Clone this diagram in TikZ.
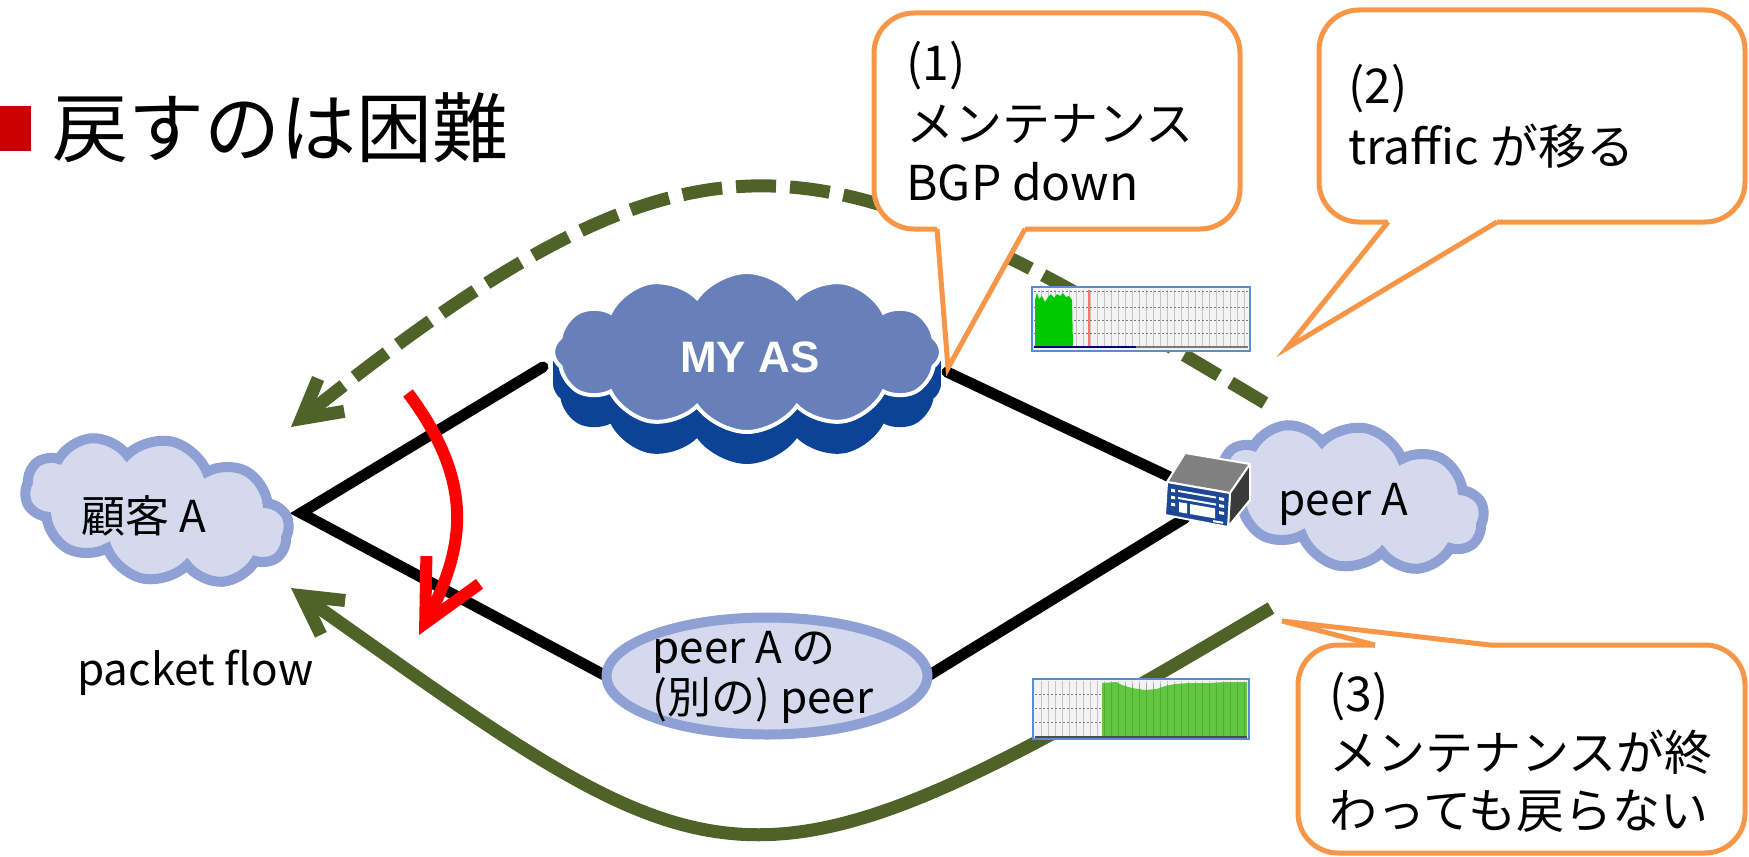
\documentclass[tikz,border=0pt]{standalone}
\usepackage{fontspec}
\setmainfont{Noto Sans CJK JP}
\newfontfamily\boldlatin{Liberation Sans}
\usetikzlibrary{shapes.symbols,shapes.geometric,arrows.meta}

\definecolor{olivegreen}{HTML}{4F6228}
\definecolor{calloutorange}{HTML}{F79646}
\definecolor{cloudfill}{HTML}{D5D9EE}
\definecolor{cloudline}{HTML}{8EA0D4}
\definecolor{myastop}{HTML}{6880B9}
\definecolor{myasside}{HTML}{0D4396}
\definecolor{routerblue}{HTML}{1D4797}
\definecolor{routergrey}{HTML}{808080}
\definecolor{routerside}{HTML}{3A3A3A}
\definecolor{titlered}{HTML}{CC0000}
\definecolor{graphbg}{HTML}{F3F3F3}
\definecolor{graphframe}{HTML}{5B8BD0}
\definecolor{graphgrid}{HTML}{C4C4C4}
\definecolor{graphgridh}{HTML}{7A7A7A}
\definecolor{greenA}{HTML}{00C800}
\definecolor{greenB}{HTML}{62C642}

\begin{document}
\begin{tikzpicture}[x=0.5pt,y=-0.5pt,
  link/.style={line width=5.5pt, line cap=round},
  flow/.style={draw=olivegreen, line width=6.5pt},
  flowtip/.style={-{Straight Barb[length=19pt,width=21pt]}},
  softcloud/.style={cloud, cloud puffs=10, cloud puff arc=115, cloud ignores aspect,
    inner sep=0, fill=cloudfill, draw=cloudline, line width=5pt},
  ascloud/.style={cloud, cloud puffs=12, cloud puff arc=110, cloud ignores aspect,
    inner sep=0, minimum width=194pt, minimum height=80pt},
  lbl/.style={anchor=base west, inner sep=0, font=\fontsize{22}{26}\selectfont},
  bubtxt/.style={anchor=base west, inner sep=0, font=\fontsize{24}{28}\selectfont},
  bubbox/.style={rectangle, rounded corners=20pt, fill=white, draw=calloutorange,
    line width=2.5pt, inner sep=0},
  pointer/.style={draw=calloutorange, line width=2.5pt, line join=miter},
  gframe/.style={rectangle, draw=graphframe, line width=1pt, inner sep=0},
  gv/.style={draw=graphgrid, line width=0.4pt},
  gh/.style={draw=graphgridh, line width=0.4pt, dash pattern=on 1pt off 1pt}
]
\useasboundingbox (0,0) rectangle (1749,856);

% heading
\fill[titlered] (0,106) rectangle (31,151);
\node[anchor=base west, inner sep=0, font=\fontsize{38}{40}\selectfont] (title) at (52,156) {戻すのは困難};

% attachment points of the links
\coordinate (asW) at (543,367);
\coordinate (asE) at (947,372);
\coordinate (apex) at (301,513);
\coordinate (rtrIn) at (1172,478);
\coordinate (rtrOut) at (1185,518);
\node[ellipse, minimum width=160.5pt, minimum height=58.5pt, inner sep=0] (pp) at (767,676) {};

% black links
\draw[link, line join=miter] (asW) -- (apex) -- (pp.west);
\draw[link] (asE) -- (rtrIn);
\draw[link] (rtrOut) -- (pp.east);

% customer and peer clouds
\node[softcloud, minimum width=134pt, minimum height=70pt, rotate=-12] (cust) at (157,510) {};
\node[lbl] (custlbl) at (81,532) {顧客 A};
\node[softcloud, minimum width=134pt, minimum height=70pt, rotate=-12] (peer) at (1352,497) {};
\node[lbl] (peerlbl) at (1278,515) {peer A};

% the other peer
\node[ellipse, minimum width=160.5pt, minimum height=58.5pt, inner sep=0,
  fill=cloudfill, draw=cloudline, line width=5pt] (ppshape) at (767,676) {};
\node[lbl] (pplbl1) at (652,663) {peer A の};
\node[lbl] (pplbl2) at (652,713) {(別の) peer};

% MY AS cloud with its extruded rim
\foreach \d in {32,30,...,0}
  \node[ascloud, fill=myasside] at (747,352+\d) {};
\node[ascloud, fill=myastop, draw=white, line width=2pt] (myas) at (747,352) {};
\node[anchor=base, inner sep=0, text=white,
  font=\boldlatin\bfseries\fontsize{22}{24}\selectfont] (myaslbl) at (750,372) {MY AS};

% router
\coordinate (rFLt) at (1167,482);
\coordinate (rFRt) at (1230,493);
\coordinate (rFRb) at (1228,527);
\coordinate (rFLb) at (1165,515);
\coordinate (rBL) at (1185,453);
\coordinate (rBR) at (1250,464);
\coordinate (rSRb) at (1250,500);
\filldraw[draw=white, line width=1pt, line join=round, fill=routergrey]
  (rFLt) -- (rBL) -- (rBR) -- (rFRt) -- cycle;
\filldraw[draw=white, line width=1pt, line join=round, fill=routerside]
  (rFRt) -- (rBR) -- (rSRb) -- (rFRb) -- cycle;
\filldraw[draw=white, line width=1pt, line join=round, fill=routerblue]
  (rFLt) -- (rFRt) -- (rFRb) -- (rFLb) -- cycle;
\begin{scope}[shift={(1167,482)}, yslant=-0.175]
  \fill[white] (4,6) rectangle (8,9) (4,13) rectangle (8,16) (4,20) rectangle (8,23);
  \fill[white] (11,6) rectangle (49,8) (11,13) rectangle (49,15);
  \fill[white] (12,18) rectangle (20,28) (23,18) rectangle (48,28);
  \fill[white] (52,6) rectangle (57,9) (52,13) rectangle (57,16) (52,20) rectangle (57,23);
  \fill[white] (46,30) rectangle (56,32);
\end{scope}

% packet flow arrows
\coordinate (dashFrom) at (1265,403);
\coordinate (dashTo) at (291,427);
\draw[flow, flowtip, dash pattern=on 20pt off 7pt]
  (dashFrom) .. controls (826,141) and (722,83) .. (dashTo);
\coordinate (flowFrom) at (1271,608);
\coordinate (flowTo) at (291,588);
\draw[flow, flowtip] (flowFrom) .. controls (738,925) and (730,898) .. (flowTo);
\node[lbl] (flowlbl) at (77,685) {packet flow};

% red turn arrow
\coordinate (redFrom) at (408,393);
\coordinate (redTo) at (419,635);
\draw[draw=red, line width=6pt, -{Straight Barb[length=30pt,width=30pt]}]
  (redFrom) .. controls (474,481) and (466,545) .. (redTo);

% traffic graph before the change
\fill[graphbg] (1032,287) rectangle (1250,351);
\foreach \x in {1041,1048,...,1246} \draw[gv] (\x,290) -- (\x,347);
\foreach \y in {291,307,320,333} \draw[gh] (1034,\y) -- (1248,\y);
\fill[greenA] (1035,347) -- (1035,300) -- (1037,293) -- (1039,299) -- (1042,296) -- (1045,302)
  -- (1048,297) -- (1051,294) -- (1054,298) -- (1057,294) -- (1060,296) -- (1063,293)
  -- (1066,297) -- (1069,296) -- (1072,300) -- (1073,347) -- cycle;
\draw[red!55, line width=0.6pt] (1089,290) -- (1089,347);
\draw[blue!50!black, line width=1pt] (1034,347) -- (1136,347);
\draw[graphgridh, line width=0.8pt] (1136,347) -- (1248,347);
\node[gframe, minimum width=109pt, minimum height=32pt] (graphA) at (1141,319) {};

% traffic graph after the change
\fill[graphbg] (1033,679) rectangle (1249,739);
\foreach \x in {1041,1048,...,1246} \draw[gv] (\x,681) -- (\x,737);
\foreach \y in {694,708,722} \draw[gh] (1035,\y) -- (1247,\y);
\fill[greenB] (1102,737) -- (1102,683) -- (1116,682) -- (1122,685) -- (1132,688) -- (1145,690)
  -- (1157,689) -- (1165,686) -- (1175,684) -- (1190,683) -- (1210,683) -- (1225,682)
  -- (1247,682) -- (1247,737) -- cycle;
\foreach \x in {1104,1111,...,1246} \draw[green!45!black, opacity=0.25, line width=0.4pt] (\x,684) -- (\x,737);
\draw[black!70, line width=0.8pt] (1035,737) -- (1247,737);
\node[gframe, minimum width=108pt, minimum height=30pt] (graphB) at (1141,709) {};

% callout (1)
\node[bubbox, minimum width=183pt, minimum height=108pt] (bub1) at (1057,121) {};
\coordinate (bub1a) at (937,229);
\coordinate (bub1b) at (1025,229);
\coordinate (bub1tip) at (948,368);
\fill[white] (937,225) rectangle (1025,233);
\fill[white] (bub1a) -- (bub1tip) -- (bub1b) -- cycle;
\draw[pointer] (bub1a) -- (bub1tip) -- (bub1b);
\node[bubtxt] (t1a) at (906,81) {(1)};
\node[bubtxt] (t1b) at (906,141) {メンテナンス};
\node[bubtxt] (t1c) at (906,200) {BGP down};

% callout (2)
\node[bubbox, minimum width=213pt, minimum height=106pt] (bub2) at (1532,116) {};
\coordinate (bub2a) at (1388,222);
\coordinate (bub2b) at (1497,222);
\coordinate (bub2tip) at (1287,348);
\fill[white] (1388,218) rectangle (1497,226);
\fill[white] (bub2a) -- (bub2tip) -- (bub2b) -- cycle;
\draw[pointer] (bub2a) -- (bub2tip) -- (bub2b);
\node[bubtxt] (t2a) at (1348,104) {(2)};
\node[bubtxt] (t2b) at (1348,164) {traffic が移る};

% callout (3)
\node[bubbox, minimum width=223.5pt, minimum height=104pt] (bub3) at (1521.5,749) {};
\coordinate (bub3a) at (1375,645);
\coordinate (bub3b) at (1490,645);
\coordinate (bub3tip) at (1282,621);
\fill[white] (1375,641) rectangle (1490,649);
\fill[white] (bub3a) -- (bub3tip) -- (bub3b) -- cycle;
\draw[pointer] (bub3a) -- (bub3tip) -- (bub3b);
\node[bubtxt] (t3a) at (1329,711) {(3)};
\node[bubtxt] (t3b) at (1329,770) {メンテナンスが終};
\node[bubtxt] (t3c) at (1329,828) {わっても戻らない};
\end{tikzpicture}
\end{document}
